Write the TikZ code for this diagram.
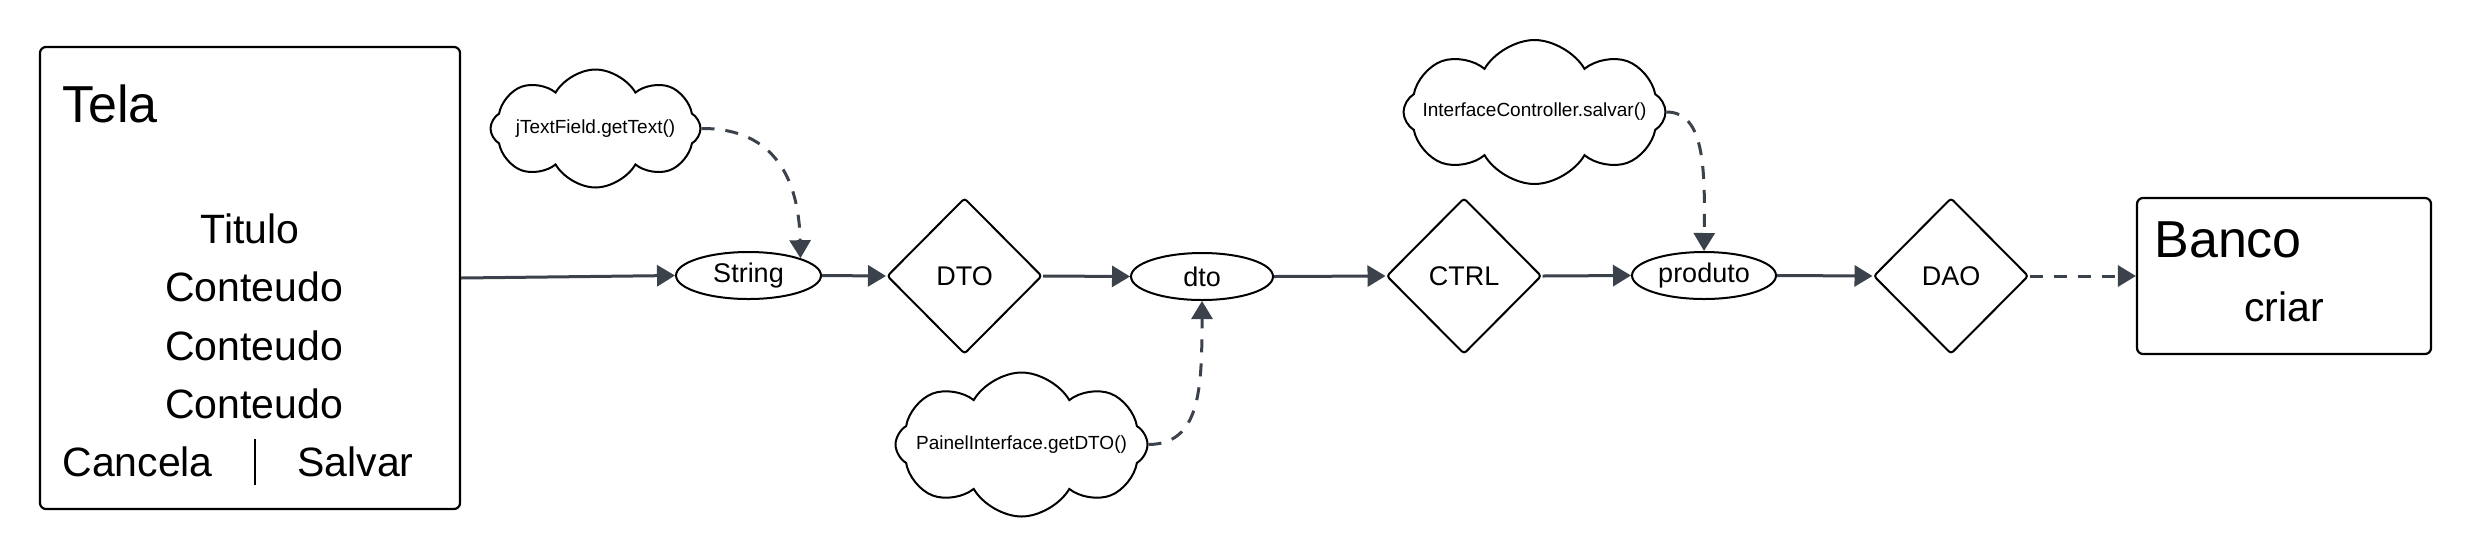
\documentclass[tikz,border=0pt]{standalone}
\usepackage{fontspec}
\setmainfont{Liberation Sans}
\usetikzlibrary{shapes.geometric,shapes.symbols,arrows.meta}
\definecolor{connclr}{HTML}{3C424B}
\tikzset{
  conn/.style={draw=connclr, line width=1.5pt, -{Triangle[length=9pt,width=10.5pt]}},
  dconn/.style={conn, dash pattern=on 6.5pt off 5.5pt},
  ell/.style={ellipse, draw, line width=1pt, minimum width=72.5pt, minimum height=23.5pt, inner sep=0pt, font=\fontsize{13.5}{16}\selectfont},
  dia/.style={diamond, draw, line width=1pt, minimum width=77.5pt, minimum height=78pt, inner sep=0pt, rounded corners=1.5pt, font=\fontsize{13.5}{16}\selectfont},
  box/.style={draw, rectangle, rounded corners=3pt, line width=1.1pt},
  cld/.style={cloud, draw, cloud puffs=8, cloud puff arc=120, cloud ignores aspect, line width=1pt, inner sep=0pt, font=\fontsize{9.5}{11}\selectfont},
  big/.style={anchor=base west, inner sep=0pt, font=\fontsize{26}{30}\selectfont},
  mid/.style={anchor=base, inner sep=0pt, font=\fontsize{20.5}{24}\selectfont},
}
\begin{document}
\begin{tikzpicture}[x=0.5pt, y=-0.5pt]
\useasboundingbox (0,0) rectangle (2472,553);
% Tela
\node[box, minimum width=210pt, minimum height=231pt] (tela) at (250,278) {};
\node[big] (telat) at (62,122) {Tela};
\node[mid] (titulo) at (250,243) {Titulo};
\node[mid] (cont1) at (254,301.5) {Conteudo};
\node[mid] (cont2) at (254,360) {Conteudo};
\node[mid] (cont3) at (254,418) {Conteudo};
\node[mid, anchor=base west] (cancela) at (62,476) {Cancela};
\node[mid, anchor=base west] (salvar) at (297,476) {Salvar};
\draw[line width=1.1pt] (255,439) -- (255,485);
% chain
\node[ell] (string) at (748.5,275.5) {String};
\node[dia] (dtod) at (964.5,276) {DTO};
\node[ell, minimum width=71pt] (dto) at (1202,276.5) {dto};
\node[dia] (ctrl) at (1464,276) {CTRL};
\node[ell, minimum width=72pt] (produto) at (1704,275.5) {produto};
\node[dia] (dao) at (1951,276) {DAO};
\node[box, minimum width=147pt, minimum height=78pt] (banco) at (2284,276) {};
\node[big] (bancot) at (2154,257) {Banco};
\node[mid] (criar) at (2284,321) {criar};
% clouds
\node[cld, minimum width=105pt, minimum height=59pt] (c1) at (595.5,128.5) {\makebox[0pt]{jTextField.getText()}};
\node[cld, minimum width=126pt, minimum height=72pt] (c2) at (1021.5,444.5) {\makebox[0pt]{PainelInterface.getDTO()}};
\node[cld, minimum width=131pt, minimum height=72pt] (c3) at (1534.5,112) {\makebox[0pt]{InterfaceController.salvar()}};
% connectors
\draw[conn] (tela.east) -- (string.west);
\draw[conn] (string.east) -- (dtod.west);
\draw[conn] (dtod.east) -- (dto.west);
\draw[conn] (dto.east) -- (ctrl.west);
\draw[conn] (ctrl.east) -- (produto.west);
\draw[conn] (produto.east) -- (dao.west);
\draw[dconn] (dao.east) -- (banco.west);
\draw[dconn] (c1.east) .. controls (775,128) and (799,180) .. (string.north east);
\draw[dconn] (c2.east) .. controls (1200,444) and (1202,390) .. (dto.south);
\draw[dconn] (c3.east) .. controls (1705,112) and (1705,170) .. (produto.north);
\end{tikzpicture}
\end{document}
